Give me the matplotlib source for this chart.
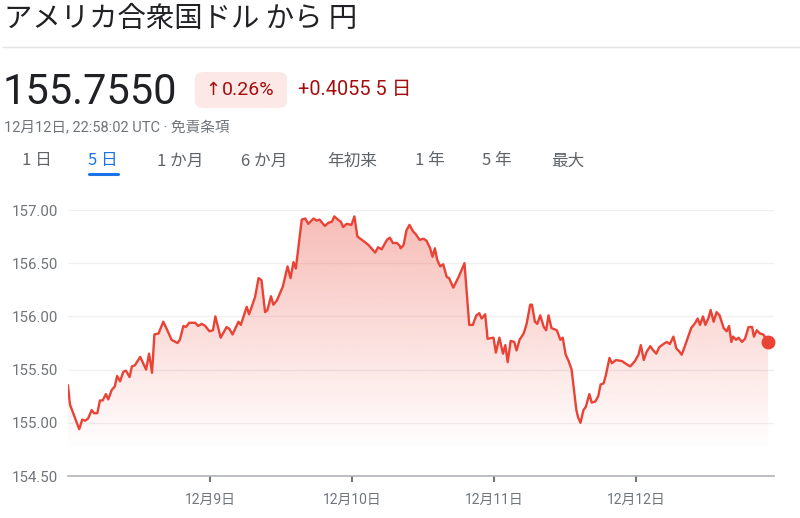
import numpy as np
import matplotlib
matplotlib.use("Agg")
import matplotlib.pyplot as plt
from matplotlib.patches import FancyBboxPatch

plt.rcParams['font.family'] = ['Noto Sans CJK JP', 'DejaVu Sans']

# hours since 12月8日 00:00 UTC
hours = [0.0, 0.34, 1.9, 2.4, 2.9, 3.4, 4.0, 4.4, 4.95, 5.4, 5.86, 6.4, 6.8, 7.4, 7.9,
         8.3, 8.8, 9.35, 9.8, 10.4, 10.8, 11.3, 12.2, 13.2, 13.7, 14.2, 14.6, 15.3, 16.1,
         16.7, 17.5, 18.5, 18.9, 19.5, 19.9, 20.5, 21.5, 22.0, 22.6, 23.2, 23.9, 24.5,
         24.9, 25.8, 26.8, 27.3, 27.8, 28.8, 29.2, 30.2, 30.6, 31.6, 32.2, 32.7, 33.3,
         33.7, 34.3, 34.7, 35.3, 36.3, 37.1, 37.6, 38.1, 38.5, 39.5, 40.1, 40.6, 41.5,
         42.0, 42.5, 43.4, 44.0, 44.6, 45.0, 45.6, 46.1, 46.5, 47.1, 47.9, 48.4, 48.9,
         49.9, 50.8, 51.9, 52.4, 53.0, 53.9, 54.4, 54.9, 55.6, 56.1, 56.2, 56.7, 57.2, 57.7,
         58.3, 58.8, 59.4, 60.1, 60.6, 61.2, 61.6, 62.0, 62.4, 62.9, 63.4, 64.0, 64.4,
         65.1, 66.0, 67.0, 67.8, 68.4, 69.0, 69.5, 69.9, 70.5, 70.9, 71.9, 72.3, 72.9,
         73.5, 73.9, 74.3, 74.8, 75.4, 75.8, 76.3, 77.0, 77.5, 78.1, 78.4, 78.9, 79.3,
         79.8, 80.4, 80.8, 81.2, 81.7, 82.6, 83.2, 83.6, 84.1, 84.6, 85.1, 85.9, 86.2,
         86.6, 87.1, 87.5, 88.1, 88.5, 89.1, 89.6, 90.0, 90.5, 90.9, 91.5, 91.9, 92.6,
         93.6, 94.4, 95.0, 95.8, 96.4, 96.8, 97.3, 97.8, 98.4, 98.9, 99.4, 99.9, 100.6,
         101.2, 101.7, 102.3, 102.8, 103.3, 103.7, 104.3, 104.8, 105.3, 106.0, 106.4,
         106.8, 107.3, 107.7, 108.2, 108.6, 109.1, 109.6, 110.1, 110.8, 111.3, 111.7,
         112.1, 112.4, 112.9, 113.3, 113.9, 114.4, 115.0, 115.6, 115.9, 116.4, 116.9,
         117.5, 118.3]
rates = [155.35, 155.17, 154.94, 155.03, 155.02, 155.04, 155.12, 155.09, 155.09, 155.21,
         155.21, 155.27, 155.22, 155.31, 155.34, 155.44, 155.39, 155.48, 155.49, 155.43,
         155.53, 155.54, 155.62, 155.50, 155.65, 155.47, 155.83, 155.84, 155.95, 155.88,
         155.78, 155.75, 155.78, 155.91, 155.90, 155.94, 155.94, 155.91, 155.93, 155.91,
         155.86, 155.87, 156.00, 155.80, 155.90, 155.88, 155.83, 155.95, 155.92, 156.09,
         156.02, 156.18, 156.36, 156.34, 156.04, 156.06, 156.19, 156.11, 156.15, 156.28,
         156.47, 156.36, 156.51, 156.45, 156.91, 156.92, 156.87, 156.92, 156.90, 156.91,
         156.85, 156.88, 156.89, 156.94, 156.91, 156.89, 156.84, 156.87, 156.86, 156.94,
         156.75, 156.71, 156.67, 156.60, 156.65, 156.63, 156.72, 156.74, 156.69, 156.69,
         156.66, 156.64, 156.67, 156.81, 156.86, 156.80, 156.77, 156.72, 156.73, 156.71,
         156.64, 156.56, 156.64, 156.53, 156.47, 156.49, 156.37, 156.36, 156.27, 156.37,
         156.50, 155.92, 155.92, 156.01, 156.03, 155.98, 156.02, 155.79, 155.80, 155.66,
         155.80, 155.65, 155.73, 155.57, 155.77, 155.76, 155.68, 155.78, 155.84, 155.93,
         156.11, 156.11, 155.95, 155.93, 156.01, 155.90, 155.87, 156.01, 155.89, 155.87,
         155.78, 155.80, 155.64, 155.58, 155.50, 155.12, 155.05, 155.00, 155.12, 155.15,
         155.27, 155.19, 155.20, 155.25, 155.36, 155.37, 155.45, 155.61, 155.56, 155.59,
         155.58, 155.55, 155.53, 155.58, 155.64, 155.73, 155.59, 155.67, 155.72, 155.68,
         155.65, 155.71, 155.74, 155.76, 155.74, 155.81, 155.70, 155.67, 155.64, 155.73,
         155.81, 155.89, 155.94, 155.98, 155.92, 156.00, 155.92, 155.98, 156.06, 155.95,
         156.04, 156.01, 155.89, 155.86, 155.91, 155.76, 155.81, 155.78, 155.80, 155.76,
         155.79, 155.90, 155.90, 155.81, 155.87, 155.84, 155.83, 155.755]

yticks = [154.5, 155.0, 155.5, 156.0, 156.5, 157.0]
xtick_hours = [24, 48, 72, 96]
xtick_labels = ["12月9日", "12月10日", "12月11日", "12月12日"]
tabs = ["1 日", "5 日", "1 か月", "6 か月", "年初来", "1 年", "5 年", "最大"]

RED = "#ea4335"
W, H = 800, 518
fig = plt.figure(figsize=(W / 100, H / 100), dpi=100)

def fx(px):
    return px / W

def fy(py):
    return 1 - py / H

# header
fig.text(fx(4), fy(19), "アメリカ合衆国ドル から 円", fontsize=20.4, color="#202124",
         va="center", ha="left")
fig.add_artist(plt.Line2D([fx(3), fx(800)], [fy(47), fy(47)], color="#e3e3e3", lw=1))
fig.text(fx(3), fy(92), "155.7550", fontsize=30, color="#202124", va="center", ha="left",
         family=["Roboto", "DejaVu Sans"])
pill = FancyBboxPatch((fx(195), fy(108)), fx(92), 36 / H,
                      boxstyle="round,pad=0,rounding_size=0.012",
                      transform=fig.transFigure, facecolor="#fce8e6", edgecolor="none")
fig.add_artist(pill)
fig.text(fx(205), fy(90), "↑", fontsize=13, color="#a50e0e", va="center", ha="left",
         family=["DejaVu Sans"])
fig.text(fx(222), fy(90), "0.26%", fontsize=14, color="#a50e0e", va="center", ha="left",
         family=["Roboto", "DejaVu Sans"])
fig.text(fx(298), fy(90), "+0.4055 5 日", fontsize=14.3, color="#a50e0e", va="center",
         ha="left", family=["Roboto", "Noto Sans CJK JP"])
fig.text(fx(4), fy(128), "12月12日, 22:58:02 UTC · 免責条項", fontsize=10.5, color="#70757a",
         va="center", ha="left", family=["Roboto", "Noto Sans CJK JP"])

tab_x = [22, 88, 157, 241, 327, 415, 482, 551]
for x, t in zip(tab_x, tabs):
    col = "#1a73e8" if t == "5 日" else "#5f6368"
    fig.text(fx(x), fy(161), t, fontsize=12, color=col, va="center", ha="left")
fig.add_artist(plt.Line2D([fx(89), fx(118)], [fy(174), fy(174)], color="#1a73e8",
                          lw=2.2, solid_capstyle="round"))

# chart
ax = fig.add_axes([fx(68), fy(476), fx(774 - 68), (476 - 210) / H])
ax.set_xlim(0, 119.3)
ax.set_ylim(154.5, 157.0)

poly = ax.fill_between(hours, rates, 154.5, color="none", lw=0)
vals = np.linspace(154.5, 157.0, 256)
grad = np.zeros((256, 1, 4))
grad[..., :3] = matplotlib.colors.to_rgb(RED)
grad[:, 0, 3] = np.clip(0.16 * (vals - 154.74), 0, 1)
im = ax.imshow(grad, extent=[0, hours[-1], 154.5, 157.0], origin="lower",
               aspect="auto", zorder=1, interpolation="bilinear")
im.set_clip_path(poly.get_paths()[0], transform=ax.transData)

ax.plot(hours, rates, color=RED, lw=1.7, zorder=3, solid_joinstyle="round")
ax.plot([hours[-1]], [rates[-1]], "o", color=RED, ms=9, zorder=4, clip_on=False)

for y in yticks[1:]:
    ax.axhline(y, color="#f0f0f0", lw=1, zorder=0)

for s in ["top", "right", "left"]:
    ax.spines[s].set_visible(False)
ax.spines["bottom"].set_color("#b0b3b8")
ax.spines["bottom"].set_linewidth(1.2)

ax.set_yticks(yticks)
ax.set_yticklabels([f"{v:.2f}" for v in yticks])
ax.tick_params(axis="y", length=0, pad=40.3, labelsize=10.8, labelcolor="#70757a")
for lab in ax.get_yticklabels():
    lab.set_ha("left")
    lab.set_family(["Roboto", "DejaVu Sans"])

ax.set_xticks(xtick_hours)
ax.set_xticklabels(xtick_labels)
ax.tick_params(axis="x", length=4, width=1.5, color="#70757a", pad=8, labelsize=10,
               labelcolor="#70757a")
for lab in ax.get_xticklabels():
    lab.set_family(["Roboto", "Noto Sans CJK JP"])

fig.savefig("out.png", dpi=100)
